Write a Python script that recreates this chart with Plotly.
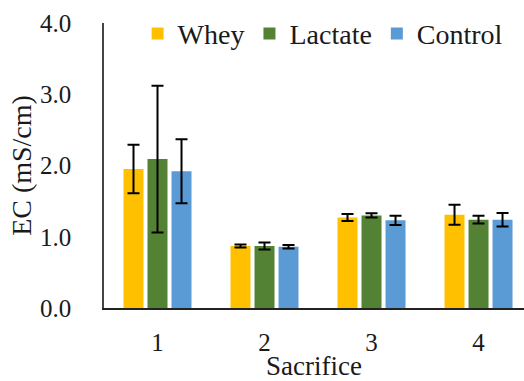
import plotly.graph_objects as go

# Electrical conductivity per sacrifice, by amendment
sacrifice = ["1", "2", "3", "4"]
whey = [1.95, 0.87, 1.27, 1.31]
whey_err = [0.34, 0.02, 0.05, 0.14]
lactate = [2.09, 0.87, 1.30, 1.24]
lactate_err = [1.03, 0.05, 0.03, 0.055]
control = [1.92, 0.86, 1.23, 1.24]
control_err = [0.45, 0.025, 0.065, 0.095]
y_ticks = [0, 1, 2, 3, 4]

series = [
    ("Whey", whey, whey_err, "#FFC000"),
    ("Lactate", lactate, lactate_err, "#548235"),
    ("Control", control, control_err, "#5B9BD5"),
]

FONT = "Times New Roman"
INK = "#1a1a1a"

fig = go.Figure()
for name, vals, errs, color in series:
    fig.add_trace(go.Bar(
        name=name,
        x=sacrifice,
        y=vals,
        marker=dict(color=color, line=dict(width=0)),
        error_y=dict(type="data", array=errs, visible=True,
                     color="black", thickness=2, width=6),
    ))

fig.update_layout(
    width=524, height=381,
    margin=dict(l=104, r=0, t=23, b=73, autoexpand=False),
    paper_bgcolor="white", plot_bgcolor="white",
    barmode="group", bargap=0.327, bargroupgap=0.167,
    font=dict(family=FONT, color=INK, size=25),
    showlegend=True,
    legend=dict(
        orientation="h", x=0.08, xanchor="left", y=0.962, yanchor="middle",
        font=dict(family=FONT, size=28, color=INK),
        bgcolor="rgba(0,0,0,0)", itemclick=False,
    ),
    xaxis=dict(
        type="category", range=[-0.5, 3.425],
        showline=True, linecolor="#222", linewidth=2,
        ticks="", showgrid=False, zeroline=False,
        tickfont=dict(family=FONT, size=25), ticklabelstandoff=11,
        title=dict(text="Sacrifice", font=dict(family=FONT, size=27), standoff=2),
    ),
    yaxis=dict(
        range=[0, 4], tickvals=y_ticks, tickformat=".1f",
        showline=True, linecolor="#444", linewidth=1.5,
        ticks="", showgrid=False, zeroline=False,
        tickfont=dict(family=FONT, size=25), ticklabelstandoff=26,
        title=dict(text="EC (mS/cm)", font=dict(family=FONT, size=28), standoff=0),
    ),
)

fig.write_html("out.html")
